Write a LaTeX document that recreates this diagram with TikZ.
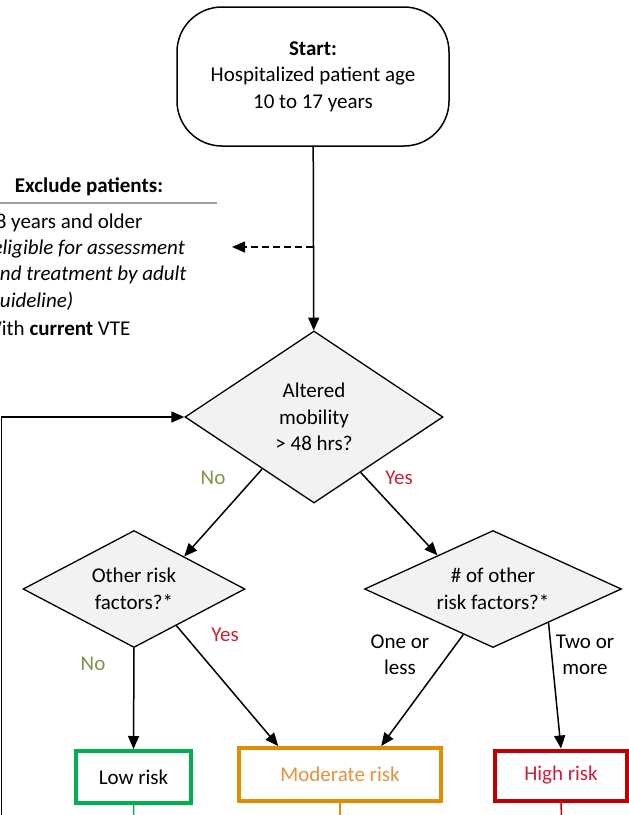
\documentclass[tikz,border=0pt]{standalone}
\usepackage{fontspec}
\setmainfont{Carlito}
\usetikzlibrary{shapes,arrows.meta,calc}

\definecolor{boxgray}{RGB}{242,242,242}
\definecolor{rulegray}{RGB}{160,160,160}
\definecolor{lowgreen}{RGB}{0,176,80}
\definecolor{modorange}{RGB}{226,140,0}
\definecolor{modtext}{RGB}{232,145,60}
\definecolor{highred}{RGB}{192,0,0}
\definecolor{hightext}{RGB}{205,30,60}
\definecolor{nogreen}{RGB}{125,150,65}
\definecolor{yesred}{RGB}{200,35,50}

\begin{document}
\begin{tikzpicture}[x=1pt, y=-1pt, font=\fontsize{21}{26.5}\selectfont, >={Triangle[length=13pt,width=11pt]}]
        % Styles
        \tikzstyle{terminal} = [rectangle, draw, line width=1.5pt, fill=white, rounded corners=45pt, minimum width=272pt, minimum height=139pt, inner sep=0pt, align=center]
        \tikzstyle{decision} = [diamond, draw, line width=1.3pt, fill=boxgray, inner sep=0pt, align=center]
        \tikzstyle{outcome} = [rectangle, draw, line width=4pt, fill=white, inner sep=0pt]
        \tikzstyle{line} = [draw, line width=1.5pt, ->]
        \tikzstyle{exclline} = [anchor=base west, inner sep=0pt]

        \useasboundingbox (0,0) rectangle (629,815);
        \clip (0,0) rectangle (629,815);

        % Nodes
        \node [terminal] (start) at (313,76.5) {\textbf{Start:}\\Hospitalized patient age\\10 to 17 years};
        \node [decision, minimum width=258pt, minimum height=172pt, aspect=1.5] (mobility) at (314,417) {Altered\\mobility\\> 48 hrs?};
        \node [decision, minimum width=222pt, minimum height=117pt, aspect=1.9] (other) at (134,589) {Other risk\\factors?*};
        \node [decision, minimum width=257pt, minimum height=117pt, aspect=2.2] (count) at (493,589) {\# of other\\risk factors?*};
        \node [outcome, draw=lowgreen, minimum width=115pt, minimum height=52pt] (low) at (133.5,777) {Low risk};
        \node [outcome, draw=modorange, text=modtext, minimum width=202pt, minimum height=53pt] (moderate) at (340,774.5) {Moderate risk};
        \node [outcome, draw=highred, text=hightext, minimum width=132pt, minimum height=50pt] (high) at (561,775.5) {High risk};

        % Exclusion list
        \node (exclhead) at (89,187) {\textbf{Exclude patients:}};
        \draw [rulegray, line width=1.5pt] (-10,203) -- (217,203);
        \node [exclline] (excl1) at (-15,228) {18 years and older};
        \node [exclline] (excl2) at (-14,254) {\textit{(eligible for assessment}};
        \node [exclline] (excl3) at (-11,280) {\textit{and treatment by adult}};
        \node [exclline] (excl4) at (-11,307) {\textit{guideline)}};
        \node [exclline] (excl5) at (-17,335) {With \textbf{current} VTE};

        \coordinate (split) at (313,247);
        \coordinate (exclarrow) at (232,247);
        \coordinate (loopin) at (1.5,830);
        \coordinate (lowout) at (134,830);
        \coordinate (modout) at (340,830);
        \coordinate (highout) at (562,830);

        % Edges
        \path [line] (start) -- (mobility);
        \path [line, dash pattern=on 7pt off 4pt] (split) -- (exclarrow);
        \path [line] (loopin) |- (mobility.west);
        \path [line] ($(mobility.west)!0.6!(mobility.south)$) -- ($(other.north)!0.45!(other.east)$);
        \path [line] ($(mobility.south)!0.36!(mobility.east)$) -- ($(count.west)!0.57!(count.north)$);
        \path [line] (other.south) -- (low.north);
        \path [line] ($(other.south)!0.38!(other.east)$) -- ($(moderate.north west)!0.2!(moderate.north east)$);
        \path [line] ($(count.south)!0.23!(count.west)$) -- ($(moderate.north west)!0.7!(moderate.north east)$);
        \path [line] ($(count.south)!0.43!(count.east)$) -- (high.north);
        \draw [lowgreen, line width=1.5pt] (low.south) -- (lowout);
        \draw [modorange, line width=1.5pt] (moderate.south) -- (modout);
        \draw [highred, line width=1.5pt] (high.south) -- (highout);

        % Labels
        \node [text=nogreen] (nomob) at (213,478) {No};
        \node [text=yesred] (yesmob) at (399,478) {Yes};
        \node [text=nogreen] (noother) at (93,664) {No};
        \node [text=yesred] (yesother) at (225,635) {Yes};
        \node [align=center] (oneless) at (400,655) {One or\\less};
        \node [align=center] (twomore) at (585,655) {Two or\\more};
    \end{tikzpicture}
\end{document}
